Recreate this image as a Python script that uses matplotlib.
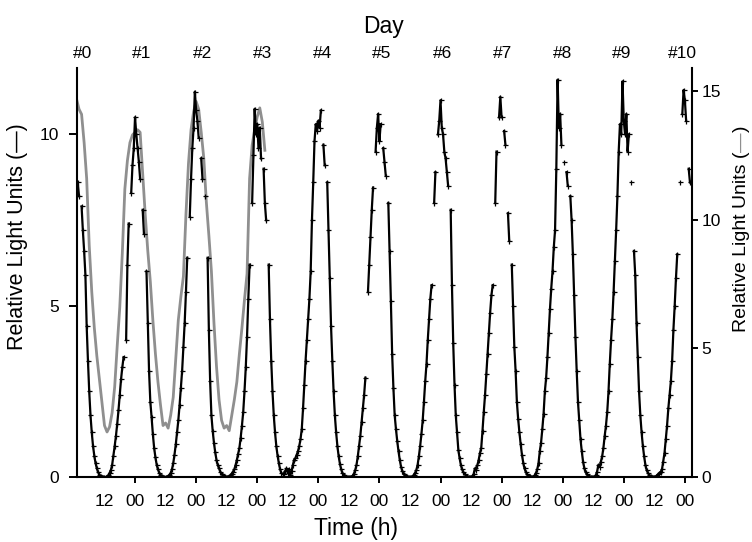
import numpy as np
import matplotlib
matplotlib.use("Agg")
import matplotlib.pyplot as plt
from matplotlib import transforms

plt.rcParams["font.family"] = ["Liberation Sans", "DejaVu Sans"]

nan = np.nan

# ---- black series (left axis), sampled every 0.5 h; one list per day (h = 24*k + 0.5*i)
day0 = [nan, nan, nan, 8.6, 8.2, nan, 7.9, 7.2, 6.6, 5.9, 4.4, 3.4, 2.5, 1.8, 1.3, 0.9,
        0.62, 0.4, 0.25, 0.14, 0.07, 0.03, 0.01, 0.0, 0.0, 0.0, 0.01, 0.05, 0.12, 0.2, 0.35, 0.62,
        0.9, 1.2, 1.55, 1.95, 2.4, 2.85, 3.2, 3.5, nan, 4.0, 6.2, 7.4, nan, 8.3, 9.1, 9.6]
day1 = [10.5, 10.0, 9.6, 9.2, 8.7, nan, 7.8, 7.1, nan, 6.0, 4.5, 3.1, 2.2, 1.75, 1.25, 0.85,
        0.58, 0.36, 0.22, 0.13, 0.07, 0.03, 0.01, 0.0, 0.0, 0.01, 0.02, 0.06, 0.12, 0.22, 0.4, 0.65,
        0.95, 1.3, 1.65, 2.1, 2.6, 3.1, 3.8, 4.5, 5.4, 6.4, nan, 7.6, 8.7, 9.6, 10.2, 11.25]
day2 = [10.7, 10.4, 9.9, nan, 9.3, 8.7, nan, 8.2, nan, 6.4, 4.3, 2.8, 1.8, 1.35, 1.0, 0.72,
        0.5, 0.35, 0.25, 0.16, 0.09, 0.05, 0.02, 0.01, 0.0, 0.01, 0.02, 0.05, 0.1, 0.16, 0.22, 0.35,
        0.5, 0.68, 0.85, 1.15, 1.5, 1.9, 2.5, 3.2, 4.1, 5.2, 6.2, nan, 8.0, 9.4, 10.75, 10.0]
day3 = [10.3, 9.6, 10.2, 9.3, nan, 9.0, 8.0, 7.5, nan, 6.2, 4.6, 3.4, 2.5, 1.8, 1.3, 0.9,
        0.62, 0.4, 0.22, 0.12, 0.08, 0.1, 0.18, 0.25, 0.12, 0.22, 0.05, 0.18, 0.35, 0.5, 0.55, 0.65,
        0.75, 0.9, 1.1, 1.4, 2.0, 2.7, 3.4, 4.0, 4.6, 5.2, 6.0, 7.5, 8.6, 9.8, 10.3, 10.1]
day4 = [10.4, 10.2, 10.7, nan, 9.7, 9.1, nan, 8.6, 7.2, 5.8, 4.4, 3.4, 2.5, 1.8, 1.3, 0.9,
        0.6, 0.38, 0.22, 0.12, 0.06, 0.03, 0.01, 0.0, 0.0, 0.0, 0.01, 0.04, 0.1, 0.2, 0.35, 0.6,
        0.9, 1.2, 1.6, 2.0, 2.4, 2.9, nan, 5.4, 6.2, 7.0, 7.8, 8.45, nan, 9.5, 10.2, 10.6]
day5 = [9.8, 10.3, nan, 9.6, 9.2, 8.8, nan, 8.0, 6.6, 5.15, 3.6, 2.6, 1.8, 1.4, 1.05, 0.75,
        0.5, 0.3, 0.18, 0.1, 0.05, 0.02, 0.01, 0.0, 0.0, 0.0, 0.02, 0.06, 0.12, 0.2, 0.35, 0.6,
        0.9, 1.25, 1.65, 2.2, 2.8, 3.3, 4.0, 4.6, 5.2, 5.6, nan, 8.0, 8.9, nan, 10.0, 10.4]
day6 = [11.0, 10.2, 10.0, 9.5, 9.3, 8.9, 8.5, nan, 7.8, 5.6, 3.9, 2.7, 1.8, 1.3, 0.8, 0.55,
        0.35, 0.22, 0.14, 0.08, 0.04, 0.02, 0.01, 0.0, 0.0, 0.02, 0.08, 0.25, 0.2, 0.35, 0.5, 0.7,
        0.85, 1.35, 1.9, 2.4, 3.0, 3.6, 4.2, 4.8, 5.3, 5.6, nan, 8.0, 9.5, nan, 10.5, 11.1]
day7 = [10.5, nan, 10.1, 9.7, nan, 7.7, 6.9, nan, 6.2, 5.0, 3.8, 3.1, 2.2, 1.7, 1.3, 0.95,
        0.65, 0.42, 0.25, 0.15, 0.08, 0.04, 0.02, 0.01, 0.0, 0.01, 0.05, 0.12, 0.22, 0.4, 0.75, 1.0,
        1.4, 1.85, 2.5, 2.9, 3.5, 4.2, 4.9, 5.5, 6.0, 6.7, 7.2, 9.0, 11.6, 10.2, 10.6, 9.7]
day8 = [nan, 9.2, nan, 8.9, 8.5, nan, 8.2, 7.5, 6.5, 5.3, 4.1, 3.1, 2.2, 1.65, 1.1, 0.75,
        0.45, 0.26, 0.15, 0.08, 0.04, 0.02, 0.01, 0.0, 0.0, 0.01, 0.05, 0.15, 0.35, 0.3, 0.45, 0.6,
        0.85, 1.2, 1.5, 1.9, 2.5, 3.3, 4.0, 4.6, 5.4, 6.3, 7.2, 8.2, 9.5, 10.3, 10.0, 11.55]
day9 = [10.4, 10.0, 10.6, 9.5, 10.0, nan, 8.6, nan, 6.6, 5.9, 4.5, 3.5, 2.5, 1.8, 1.3, 0.9,
        0.6, 0.35, 0.2, 0.12, 0.06, 0.03, 0.01, 0.0, 0.0, 0.02, 0.04, 0.08, 0.12, 0.15, 0.22, 0.45,
        0.7, 1.1, 1.5, 2.0, 2.4, 2.8, 3.4, 4.3, 5.0, 5.8, 6.5, nan, 8.6, nan, 10.6, 11.3]
day10 = [11.0, 10.4, nan, 9.0, 8.6]

# ---- grey series (right axis), hourly from h = 1 to h = 75
grey_values = [14.7, 14.3, 14.1, 13.0, 11.6, 9.0, 7.2, 5.8, 4.7, 3.8, 2.9, 2.0, 1.75, 1.95, 2.5,
               3.5, 5.1, 6.6, 8.7, 11.2, 12.3, 13.0, 13.3, 13.4, 13.5, 13.4, 11.8, 10.2, 8.8, 7.6,
               6.1, 4.8, 3.7, 2.8, 2.0, 2.1, 1.9, 2.4, 3.1, 4.6, 6.1, 7.0, 7.8, 10.2, 12.2,
               13.5, 14.2, 14.6, 14.3, 13.4, 12.4, 10.7, 9.4, 8.0, 6.0, 4.3, 3.0, 2.2, 1.9, 2.0,
               1.8, 2.4, 3.0, 3.7, 4.8, 5.8, 6.9, 7.9, 11.6, 12.9, 13.5, 14.0, 14.35, 13.8, 12.7]

day_labels = ["#0", "#1", "#2", "#3", "#4", "#5", "#6", "#7", "#8", "#9", "#10"]
midnight_labels = ["00"] * 10
noon_labels = ["12"] * 10
left_yticks = [0, 5, 10]
right_yticks = [0, 5, 10, 15]

black_days = [day0, day1, day2, day3, day4, day5, day6, day7, day8, day9, day10]
black = np.concatenate([np.array(d, dtype=float) for d in black_days])
black_t = np.arange(len(black)) * 0.5
grey_t = np.arange(1, 1 + len(grey_values))

W, H = 752, 542
fig = plt.figure(figsize=(W / 100, H / 100), dpi=100)
ax = fig.add_axes([77 / W, (H - 477) / H, (692 - 77) / W, (477 - 68) / H])
ax2 = ax.twinx()

grey = "#8f8f8f"
ax2.plot(grey_t, grey_values, color=grey, lw=2.0, zorder=2)
ax.plot(black_t, black, color="black", lw=1.6, marker="+", ms=3.6, mew=0.9, zorder=3)
ax.set_zorder(ax2.get_zorder() + 1)
ax.patch.set_visible(False)

ax.set_xlim(1.2, 242.8)
ax.set_ylim(0, 11.94)
ax2.set_ylim(0, 15.9)

for s in ["top", "right"]:
    ax.spines[s].set_visible(False)
for s in ["top", "left", "bottom"]:
    ax2.spines[s].set_visible(False)
for sp in [ax.spines["left"], ax.spines["bottom"], ax2.spines["right"]]:
    sp.set_linewidth(1.5)

fs_tick = 12.5
ax.set_xticks([24 * (k + 1) for k in range(10)])
ax.set_xticklabels(midnight_labels)
ax.set_xticks([12 + 24 * k for k in range(10)], minor=True)
ax.set_xticklabels(noon_labels, minor=True)
ax.tick_params(axis="x", which="major", direction="out", length=4, width=1.4,
               labelsize=fs_tick, pad=8)
ax.tick_params(axis="x", which="minor", length=0, labelsize=fs_tick, pad=12)

ax.set_yticks(left_yticks)
ax.set_yticklabels([str(v) for v in left_yticks])
ax.tick_params(axis="y", direction="out", length=6, width=1.4, labelsize=fs_tick, pad=7)
ax2.set_yticks(right_yticks)
ax2.set_yticklabels([str(v) for v in right_yticks])
ax2.tick_params(axis="y", direction="out", length=4, width=1.4, labelsize=fs_tick, pad=3)

# Day labels along the top
tr = transforms.blended_transform_factory(ax.transData, fig.transFigure)
day_pos = np.linspace(3.2, 238.9, len(day_labels))
for lab, p in zip(day_labels, day_pos):
    ax.text(p, 1 - 54 / H, lab, transform=tr, ha="center", va="center",
            fontsize=fs_tick, clip_on=False)
fig.text(384 / W, 1 - 33 / H, "Day", ha="center", va="baseline", fontsize=16.5)
fig.text(356 / W, 1 - 535 / H, "Time (h)", ha="center", va="baseline", fontsize=16.5)

# Left y label
fig.text(17.5 / W, 1 - 237 / H, "Relative Light Units (\u2014)", rotation=90,
         ha="center", va="center", fontsize=15.5)

# Right y label with grey dash
renderer = fig.canvas.get_renderer()
xr = 741.5 / W
y0 = 1 - 332 / H
fs_r = 14
t1 = fig.text(xr, y0, "Relative Light Units (", rotation=90, ha="center",
              va="bottom", fontsize=fs_r)
bb = t1.get_window_extent(renderer)
t2 = fig.text(xr, bb.y1 / H, "\u2014", rotation=90, ha="center", va="bottom",
              fontsize=fs_r, color=grey)
bb2 = t2.get_window_extent(renderer)
fig.text(xr, bb2.y1 / H, ")", rotation=90, ha="center", va="bottom", fontsize=fs_r)

fig.savefig("out.png", dpi=100)
